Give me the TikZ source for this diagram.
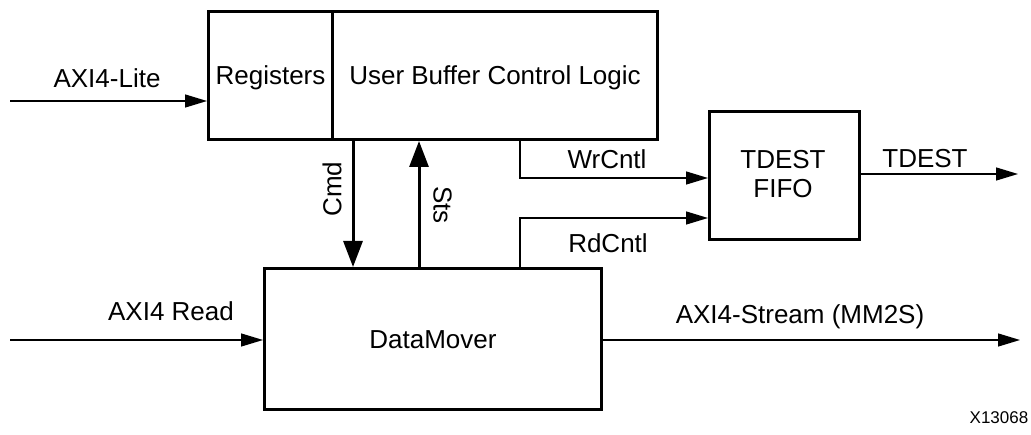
\documentclass[tikz,border=0pt]{standalone}
\usepackage{fontspec}
\setmainfont{Liberation Sans}
\usetikzlibrary{arrows.meta}
\begin{document}
\begin{tikzpicture}[x=1pt,y=-1pt,
  blk/.style={draw, line width=3pt, inner sep=0pt, outer sep=1.5pt, anchor=north west,
              font=\fontsize{26}{31}\selectfont, text height=18.6pt, text depth=0pt},
  lbl/.style={font=\fontsize{26}{31}\selectfont, inner sep=0pt, text height=18.6pt, text depth=0pt},
  thinarr/.style={line width=1.3pt, -{Triangle[length=22pt,width=13pt]}},
  thickarr/.style={line width=3pt, -{Triangle[length=26pt,width=19pt]}},
]
\useasboundingbox (0,0) rectangle (1031,435);
% blocks
\node[blk, minimum width=124pt, minimum height=128pt] (regs) at (207,10) {Registers};
\node[blk, minimum width=325pt, minimum height=128pt] (ubcl) at (331,10) {User Buffer Control Logic};
\node[blk, minimum width=150pt, minimum height=128pt] (fifo) at (708,110) {};
\node[lbl, align=center, text height=, text depth=] (fifotxt) at (783,174) {TDEST\\[-2pt]FIFO};
\node[blk, minimum width=337pt, minimum height=141pt] (dm) at (263,267) {DataMover};
% helper coordinates
\coordinate (litein) at (10,101);
\coordinate (rdin) at (10,340);
\coordinate (cmdx) at (353,0);
\coordinate (stsx) at (419,0);
\coordinate (ctlx) at (520,0);
\coordinate (wry) at (0,178);
\coordinate (rdy) at (0,218);
\coordinate (tdout) at (1018,174);
\coordinate (stout) at (1020,340);
% connectors
\draw[thinarr] (litein) -- (litein -| regs.west);
\draw[thinarr] (rdin) -- (rdin -| dm.west);
\draw[thickarr] (ubcl.south -| cmdx) -- (dm.north -| cmdx);
\draw[thickarr] (dm.north -| stsx) -- (ubcl.south -| stsx);
\draw[thinarr] (ubcl.south -| ctlx) -- (wry -| ctlx) -- (wry -| fifo.west);
\draw[thinarr] (dm.north -| ctlx) -- (rdy -| ctlx) -- (rdy -| fifo.west);
\draw[thinarr] (tdout -| fifo.east) -- (tdout);
\draw[thinarr] (stout -| dm.east) -- (stout);
% labels
\node[lbl] (llite) at (107,78) {AXI4-Lite};
\node[lbl] (lrd) at (171,311) {AXI4 Read};
\node[lbl] (lstream) at (800,314) {AXI4-Stream (MM2S)};
\node[lbl, rotate=90] (lcmd) at (332,189) {Cmd};
\node[lbl, rotate=-90] (lsts) at (443,205) {Sts};
\node[lbl] (lwr) at (607,159) {WrCntl};
\node[lbl] (lrdc) at (608,243) {RdCntl};
\node[lbl] (ltd) at (925,158) {TDEST};
\node[font=\fontsize{17}{20}\selectfont, inner sep=0pt] (xid) at (999,418) {X13068};
\end{tikzpicture}
\end{document}
